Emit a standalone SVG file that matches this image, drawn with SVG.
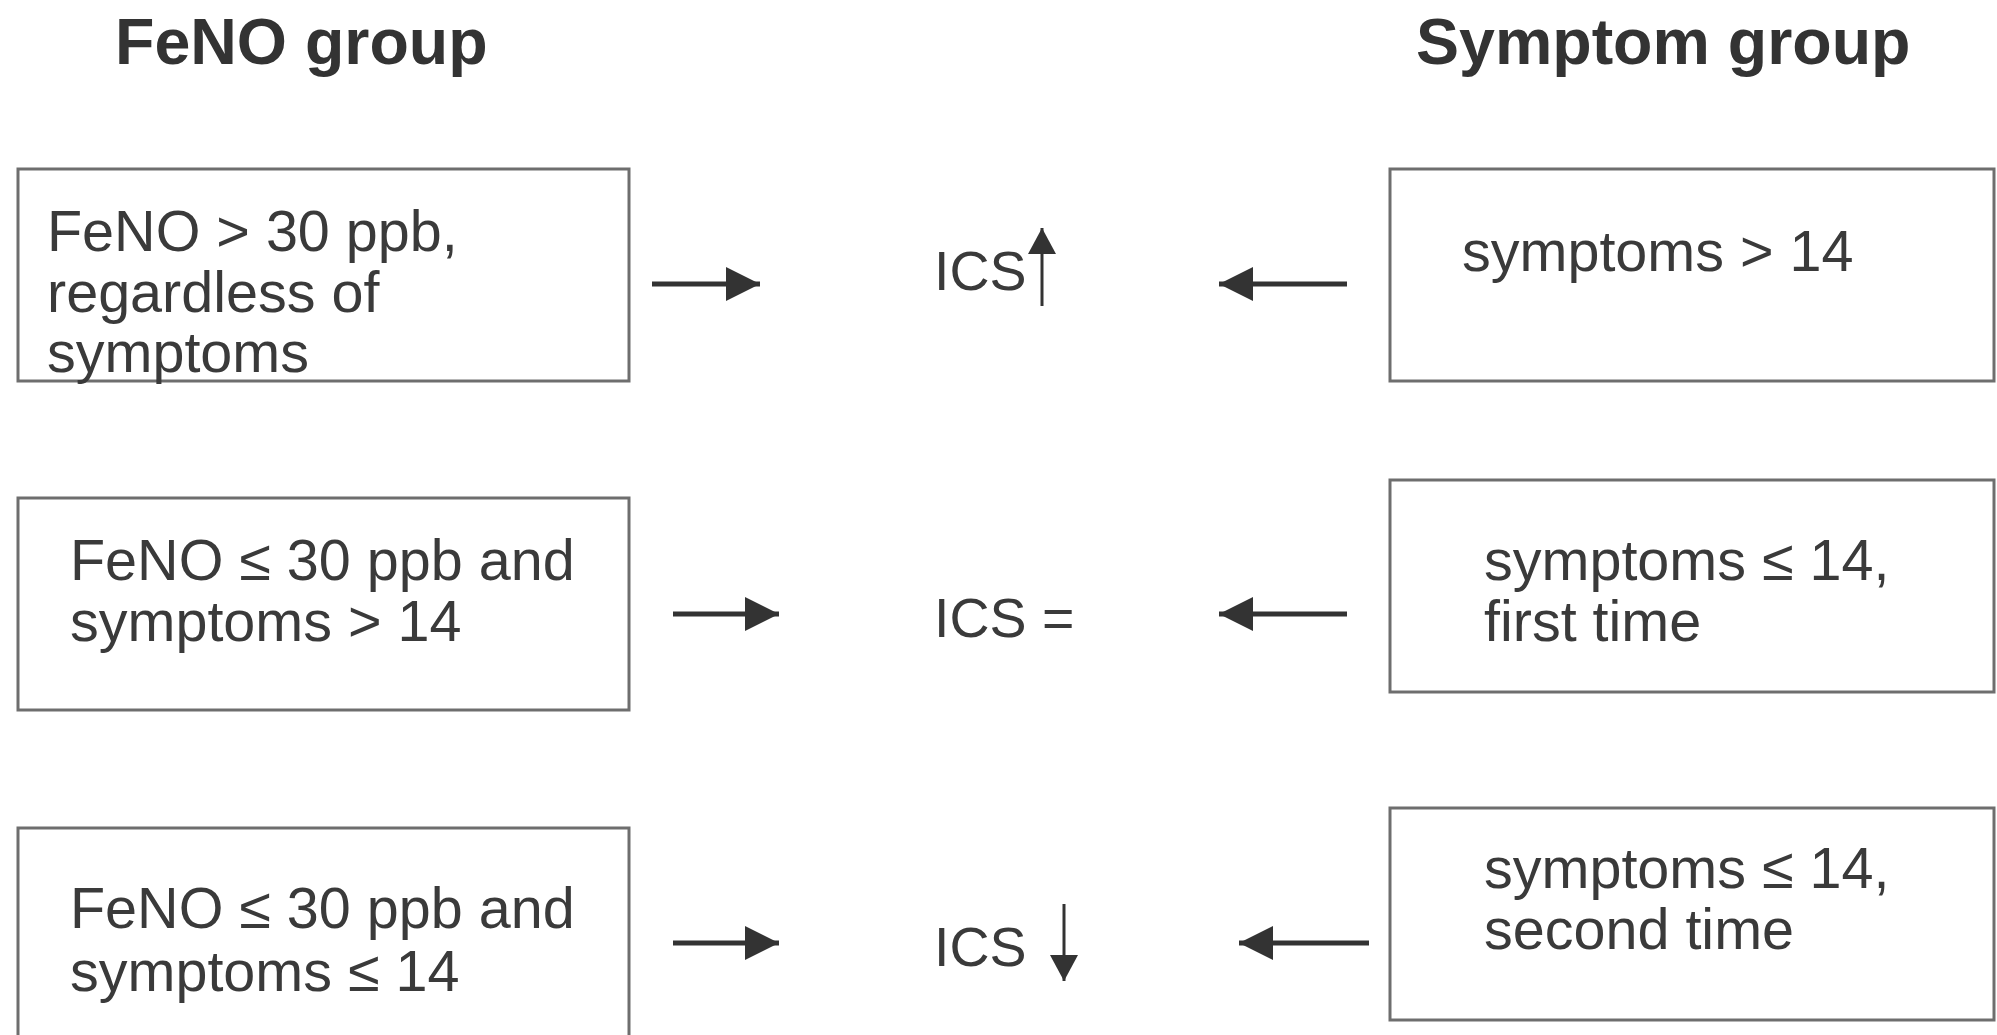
<svg xmlns="http://www.w3.org/2000/svg" width="1997" height="1035" viewBox="0 0 1997 1035">
  <style>
    .title { font-family: "Liberation Sans", Arial, sans-serif; font-weight: bold; font-size: 64.5px; fill: #333; }
    .label { font-family: "Liberation Sans", Arial, sans-serif; font-size: 57.5px; fill: #3a3a3a; }
    .ics { font-family: "Liberation Sans", Arial, sans-serif; font-size: 55.5px; fill: #3a3a3a; }
    .box { fill: #fff; stroke: #6e6e6e; stroke-width: 3; }
    .flow { stroke: #333; stroke-width: 5; fill: none; }
    .trend { stroke: #333; stroke-width: 3; fill: none; }
  </style>
  <defs>
    <marker id="headH" markerUnits="userSpaceOnUse" markerWidth="36" markerHeight="36" refX="34" refY="17" orient="auto">
      <path d="M0,0 L34,17 L0,34 z" fill="#333"/>
    </marker>
    <marker id="headV" markerUnits="userSpaceOnUse" markerWidth="28" markerHeight="30" refX="26" refY="14" orient="auto">
      <path d="M0,0 L26,14 L0,28 z" fill="#333"/>
    </marker>
  </defs>
  <rect width="1997" height="1035" fill="#fff"/>

  <!-- column headings -->
  <text class="title" x="115" y="64">FeNO group</text>
  <text class="title" x="1416" y="64">Symptom group</text>

  <!-- FeNO group criteria -->
  <g id="feno-high">
    <rect class="box" x="18" y="169" width="611" height="212"/>
    <text class="label" x="47" y="251">FeNO &gt; 30 ppb,</text>
    <text class="label" x="47" y="312">regardless of</text>
    <text class="label" x="47" y="372">symptoms</text>
  </g>
  <g id="feno-low-symptoms-high">
    <rect class="box" x="18" y="498" width="611" height="212"/>
    <text class="label" x="70" y="580">FeNO ≤ 30 ppb and</text>
    <text class="label" x="70" y="641">symptoms &gt; 14</text>
  </g>
  <g id="feno-low-symptoms-low">
    <rect class="box" x="18" y="828" width="611" height="230"/>
    <text class="label" x="70" y="928">FeNO ≤ 30 ppb and</text>
    <text class="label" x="70" y="991">symptoms ≤ 14</text>
  </g>

  <!-- ICS decisions -->
  <g id="ics-up">
    <text class="ics" x="934" y="290">ICS</text>
    <line class="trend" x1="1042" y1="306" x2="1042" y2="228" marker-end="url(#headV)"/>
  </g>
  <g id="ics-same">
    <text class="ics" x="934" y="637">ICS =</text>
  </g>
  <g id="ics-down">
    <text class="ics" x="934" y="966">ICS</text>
    <line class="trend" x1="1064" y1="904" x2="1064" y2="981" marker-end="url(#headV)"/>
  </g>

  <!-- Symptom group criteria -->
  <g id="symptoms-high">
    <rect class="box" x="1390" y="169" width="604" height="212"/>
    <text class="label" x="1462" y="271">symptoms &gt; 14</text>
  </g>
  <g id="symptoms-low-first">
    <rect class="box" x="1390" y="480" width="604" height="212"/>
    <text class="label" x="1484" y="580">symptoms ≤ 14,</text>
    <text class="label" x="1484" y="641">first time</text>
  </g>
  <g id="symptoms-low-second">
    <rect class="box" x="1390" y="808" width="604" height="212"/>
    <text class="label" x="1484" y="888">symptoms ≤ 14,</text>
    <text class="label" x="1484" y="949">second time</text>
  </g>

  <!-- connectors -->
  <g id="connectors">
    <line class="flow" x1="652" y1="284" x2="760" y2="284" marker-end="url(#headH)"/>
    <line class="flow" x1="1347" y1="284" x2="1219" y2="284" marker-end="url(#headH)"/>
    <line class="flow" x1="673" y1="614" x2="779" y2="614" marker-end="url(#headH)"/>
    <line class="flow" x1="1347" y1="614" x2="1219" y2="614" marker-end="url(#headH)"/>
    <line class="flow" x1="673" y1="943" x2="779" y2="943" marker-end="url(#headH)"/>
    <line class="flow" x1="1369" y1="943" x2="1239" y2="943" marker-end="url(#headH)"/>
  </g>
</svg>
